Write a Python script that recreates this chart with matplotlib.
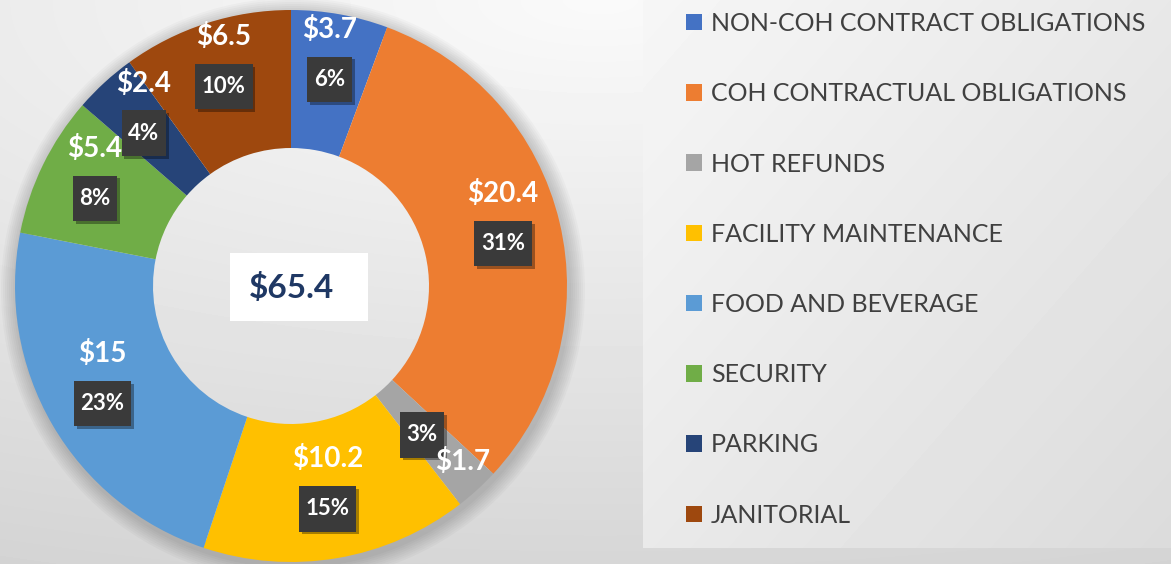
import numpy as np
import matplotlib.pyplot as plt
from matplotlib import patheffects as pe
from matplotlib.patches import Rectangle, Wedge
from matplotlib.path import Path

categories = ['NON-COH CONTRACT OBLIGATIONS', 'COH CONTRACTUAL OBLIGATIONS', 'HOT REFUNDS',
              'FACILITY MAINTENANCE', 'FOOD AND BEVERAGE', 'SECURITY', 'PARKING', 'JANITORIAL']
values = [3.7, 20.4, 1.7, 10.2, 15, 5.4, 2.4, 6.5]
pct_labels = ['6%', '31%', '3%', '15%', '23%', '8%', '4%', '10%']
total_label = '$65.4'

colors = ['#4472C4', '#ED7D31', '#A5A5A5', '#FFC000', '#5B9BD5', '#70AD47', '#264478', '#9E480E']

W, H = 1171, 564
plt.rcParams['font.family'] = ['Lato', 'DejaVu Sans']


def pct_box(x0, y0, width, height, mutation_size):
    # taller than wide padding, like the excel data label boxes
    px, py = 0.3 * mutation_size, 0.55 * mutation_size
    x0, y0 = x0 - px, y0 - py
    x1, y1 = x0 + width + 2 * px, y0 + height + 2 * py
    return Path([(x0, y0), (x1, y0), (x1, y1), (x0, y1), (x0, y0)], closed=True)


fig = plt.figure(figsize=(W / 100, H / 100), dpi=100)
ax = fig.add_axes([0, 0, 1, 1])

# page background, light near the top middle
yy, xx = np.mgrid[0:H, 0:W]
bg = 0.98 - 0.15 * np.sqrt(0.135 * ((xx - 600) / 600.) ** 2 + 0.865 * (yy / 564.) ** 2)
ax.imshow(bg, cmap='gray', vmin=0, vmax=1, extent=(0, W, 0, H), origin='upper',
          aspect='auto', zorder=0)

# legend panel
lx0, lh = 643, 548
lyy, lxx = np.mgrid[0:lh, 0:W - lx0]
panel = 0.965 - 0.055 * lxx / (W - lx0) - 0.05 * lyy / lh
ax.imshow(panel, cmap='gray', vmin=0, vmax=1, extent=(lx0, W, H - lh, H), origin='upper',
          aspect='auto', zorder=1)

cx, cy, R = 291, 278, 276

# soft shadow round the ring
for k in range(8):
    ax.add_patch(Wedge((cx + 2, cy - 4), R + 2 + 2 * k, 0, 360, width=12 + 2 * k,
                       fc='black', ec='none', alpha=0.022, zorder=1.5))

wedges, _ = ax.pie(values, colors=colors, startangle=90, counterclock=False, radius=R,
                   center=(cx, cy), wedgeprops=dict(width=R * 0.5, edgecolor='none'))
for w in wedges:
    w.set_zorder(2)

for cat, w, v, p in zip(categories, wedges, values, pct_labels):
    ang = np.deg2rad((w.theta1 + w.theta2) / 2)
    x = cx + 0.79 * R * np.cos(ang)
    y = cy + 0.79 * R * np.sin(ang)
    dv, dp = (0, 42), (0, -8)
    if cat == 'HOT REFUNDS':
        dv, dp = (24, -15), (-16, 12)
    t = ax.annotate(p, (x, y), xytext=dp, textcoords='offset pixels', ha='center', va='center',
                    color='white', fontsize=16, fontweight='bold', zorder=5,
                    bbox=dict(boxstyle=pct_box, fc='#3a3a3a', ec='none'))
    t.get_bbox_patch().set_path_effects([pe.withSimplePatchShadow(offset=(2, -2),
                                                                  shadow_rgbFace='black', alpha=0.35)])
    ax.annotate('${:g}'.format(v), (x, y), xytext=dv, textcoords='offset pixels',
                ha='center', va='center', color='white', fontsize=20, fontweight='bold', zorder=6)

# total in the hole
ax.add_patch(Rectangle((cx - 61, cy - 35), 138, 68, fc='white', ec='none', zorder=4))
ax.text(cx + 1, cy - 2, total_label, fontsize=24, fontweight='bold', color='#1F3864',
        ha='center', va='center', zorder=5)

ax.legend(wedges, categories, loc='upper left', bbox_to_anchor=(686 / W, (H - 12) / H),
          frameon=False, fontsize=18, labelcolor='#404040', handlelength=0.64,
          handleheight=0.64, handletextpad=0.35, labelspacing=1.89, borderaxespad=0,
          borderpad=0)

ax.set_xlim(0, W)
ax.set_ylim(0, H)
ax.axis('off')

fig.savefig('out.png', dpi=100)
